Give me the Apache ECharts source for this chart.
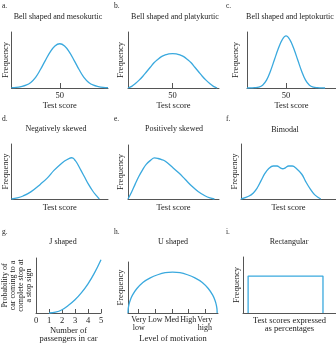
<!DOCTYPE html>
<html>
<head>
<meta charset="utf-8">
<script src="https://cdn.jsdelivr.net/npm/echarts@6/dist/echarts.min.js"></script>
<style>
html, body { margin: 0; padding: 0; background: #fff; }
#main { width: 336px; height: 348px; }
</style>
</head>
<body>
<div id="main"></div>
<script>
// panel titles and letters
var letters = ['a.', 'b.', 'c.', 'd.', 'e.', 'f.', 'g.', 'h.', 'i.'];
var titles = ['Bell shaped and mesokurtic', 'Bell shaped and platykurtic', 'Bell shaped and leptokurtic',
	'Negatively skewed', 'Positively skewed', 'Bimodal',
	'J shaped', 'U shaped', 'Rectangular'];

// a. mesokurtic
var mesoX = [0, 5, 10, 15, 20, 25, 30, 35, 40, 45, 50, 55, 60, 65, 70, 75, 80, 85, 90, 95, 100];
var mesoY = [0.5, 1, 2.5, 5, 10, 19, 33, 49, 64, 75, 79, 75, 64, 49, 33, 19, 10, 5, 2.5, 1, 0.5];
// b. platykurtic
var platyX = [2, 6, 10, 14, 18, 22, 26, 30, 34, 38, 42, 46, 50, 54, 58, 62, 66, 70, 74, 78, 82, 86, 90, 94, 98];
var platyY = [0, 3, 8, 14, 21, 29, 37, 45, 51, 56, 59, 61, 61.5, 61, 59, 56, 51, 45, 37, 29, 21, 14, 8, 3, 0];
// c. leptokurtic
var leptoX = [0, 5, 10, 15, 20, 25, 30, 35, 40, 45, 50, 55, 60, 65, 70, 75, 80, 85, 90, 95, 100];
var leptoY = [0, 0.2, 0.5, 1.5, 5, 14, 30, 50, 70, 86, 93, 86, 70, 50, 30, 14, 5, 1.5, 0.5, 0.2, 0];
// d. negatively skewed
var negX = [0, 6, 12, 20, 30, 37, 44, 50, 55, 60, 62, 64, 66, 68, 72, 76, 80, 84, 88, 91];
var negY = [0, 2, 5.5, 13, 27, 38, 52, 62, 69, 74, 75, 74, 70, 65, 52, 39, 26, 15, 6, 0];
// e. positively skewed
var posX = [0, 4, 8, 12, 16, 20, 25, 29, 33, 37, 41, 48, 56, 63, 70, 77, 85, 90, 95];
var posY = [0, 13, 28, 42, 54, 64, 72, 76, 75, 73, 70, 60, 48, 36, 24, 14, 5.5, 2, 0];
// f. bimodal
var biX = [0, 8, 13, 17, 21, 25, 29, 34, 38, 41, 44, 47, 50, 54, 58, 64, 68, 73, 78, 84];
var biY = [0, 5, 11, 20, 33, 46, 55, 60, 60, 57, 55, 57, 60, 60, 56, 45, 32, 18, 7, 0];
// g. J shaped
var passengers = [0, 1, 2, 3, 4, 5];
var jX = [1, 1.5, 2, 2.5, 3, 3.5, 4, 4.5, 5];
var jY = [0, 1.5, 6, 14, 24, 37, 53, 73, 97];
// h. U shaped (arc)
var motivation = ['Very\nlow', 'Low', 'Med', 'High', 'Very\nhigh'];
var uX = [0.35, 0.363, 0.404, 0.485, 0.62, 0.89, 1.25, 1.7, 2.15, 2.6, 3.05, 3.5, 3.95, 4.4, 4.85, 5.21, 5.48, 5.615, 5.696, 5.737, 5.75];
var uY = [0, 8, 16, 25, 35, 48, 60, 69, 75, 79, 80, 79, 75, 69, 60, 48, 35, 25, 16, 8, 0];
// i. rectangular
var rectX = [5.5, 5.5, 86, 86];
var rectY = [0, 66, 66, 0];

var FONT = 'Liberation Serif';
var TXT = '#222';
var BLUE = '#3aa9de';
var AXIS = '#555';

function zip(xs, ys) {
	var out = [];
	for (var i = 0; i < xs.length; i++) out.push([xs[i], ys[i]]);
	return out;
}

// grid boxes: left, top, width, height
var boxes = [
	[11, 32, 97, 56], [128, 32, 91, 56], [247, 32, 89, 56],
	[11, 144, 97, 55], [128, 145, 91, 54], [241, 144, 95, 55],
	[36, 258, 65, 55], [128, 262, 90, 51], [243, 257, 93, 56]
];
var titlePos = [[58, 13], [175, 13], [290, 13], [56, 125], [174, 125], [285, 126], [63, 238], [173, 238], [289, 238]];
var letterPos = [[2, 2], [114, 2], [226, 2], [2, 115], [114, 115], [226, 115], [2, 228], [114, 228], [226, 228]];

var lines = [
	{ data: zip(mesoX, mesoY), smooth: 0.4 },
	{ data: zip(platyX, platyY), smooth: 0.4 },
	{ data: zip(leptoX, leptoY), smooth: 0.4 },
	{ data: zip(negX, negY), smooth: 0.4 },
	{ data: zip(posX, posY), smooth: 0.4 },
	{ data: zip(biX, biY), smooth: 0.4 },
	{ data: zip(jX, jY), smooth: 0.4 },
	{ data: zip(uX, uY), smooth: 0.3 },
	{ data: zip(rectX, rectY), smooth: false }
];

var xRange = [[0, 100], [2, 100], [0, 114], [0, 100], [0, 100], [0, 100], [0, 5], [0.35, 5.8], [0, 100]];
var xNames = ['Test score', 'Test score', 'Test score', 'Test score', 'Test score', 'Test score',
	'Number of\npassengers in car', 'Level of motivation', 'Test scores expressed\nas percentages'];
var xGaps = [8, 8, 9, 5, 5, 5, 9, 22, 4];
var yNames = ['Frequency', 'Frequency', 'Frequency', 'Frequency', 'Frequency', 'Frequency',
	'Probability of\ncar coming to a\ncomplete stop at\na stop sign', 'Frequency', 'Frequency'];
var yGaps = [2, 3, 7, 2, 3, 2, 3, 3, 2];

var option = {
	animation: false,
	backgroundColor: '#fff',
	textStyle: { fontFamily: FONT, color: TXT },
	title: [],
	grid: [],
	xAxis: [],
	yAxis: [],
	series: []
};

for (var i = 0; i < 9; i++) {
	var b = boxes[i];
	option.grid.push({ left: b[0], top: b[1], width: b[2], height: b[3], containLabel: false });
	option.title.push({
		text: titles[i], left: titlePos[i][0], top: titlePos[i][1], textAlign: 'center', padding: 0,
		textStyle: { fontFamily: FONT, fontSize: 8, fontWeight: 'normal', color: TXT }
	});
	option.title.push({
		text: letters[i], left: letterPos[i][0], top: letterPos[i][1], padding: 0,
		textStyle: { fontFamily: FONT, fontSize: 7.5, fontWeight: 'normal', color: TXT }
	});

	var xa = {
		gridIndex: i, type: 'value', min: xRange[i][0], max: xRange[i][1],
		axisLine: { show: true, onZero: false, lineStyle: { color: AXIS, width: 1 } },
		splitLine: { show: false },
		axisTick: { show: false },
		axisLabel: { show: false },
		name: xNames[i], nameLocation: 'middle', nameGap: xGaps[i],
		nameTextStyle: { fontFamily: FONT, fontSize: 8.5, color: TXT, lineHeight: 8 }
	};
	if (i < 3) {
		xa.axisTick = { show: true, inside: true, length: 5, customValues: [50], lineStyle: { color: AXIS } };
		xa.axisLabel = { show: true, customValues: [50], margin: 3, fontFamily: FONT, fontSize: 8.5, color: TXT };
	}
	if (i === 6) {
		xa.axisTick = { show: true, inside: true, length: 4, customValues: [1, 2, 3, 4, 5], lineStyle: { color: AXIS } };
		xa.axisLabel = { show: true, customValues: passengers, margin: 3, fontFamily: FONT, fontSize: 8.5, color: TXT };
	}
	if (i === 7) {
		xa.axisTick = { show: true, inside: true, length: 4, customValues: [1, 2, 3, 4, 5], lineStyle: { color: AXIS } };
		xa.axisLabel = {
			show: true, customValues: [1, 2, 3, 4, 5], margin: 3, fontFamily: FONT, fontSize: 8, color: TXT, lineHeight: 8,
			hideOverlap: false,
			formatter: function (v) { return motivation[Math.round(v) - 1]; }
		};
	}
	option.xAxis.push(xa);

	option.yAxis.push({
		gridIndex: i, type: 'value', min: 0, max: 100,
		axisLine: { show: true, lineStyle: { color: AXIS, width: 1 } },
		splitLine: { show: false },
		axisTick: { show: false },
		axisLabel: { show: false },
		name: yNames[i], nameLocation: 'middle', nameRotate: 90, nameGap: yGaps[i],
		nameTextStyle: { fontFamily: FONT, fontSize: i === 6 ? 8 : 8.5, color: TXT, lineHeight: 8 }
	});

	option.series.push({
		type: 'line', xAxisIndex: i, yAxisIndex: i,
		data: lines[i].data, smooth: lines[i].smooth,
		showSymbol: false, clip: false,
		lineStyle: { color: BLUE, width: 1.3 }
	});
}

var chart = echarts.init(document.getElementById('main'));
chart.setOption(option);
</script>
</body>
</html>
